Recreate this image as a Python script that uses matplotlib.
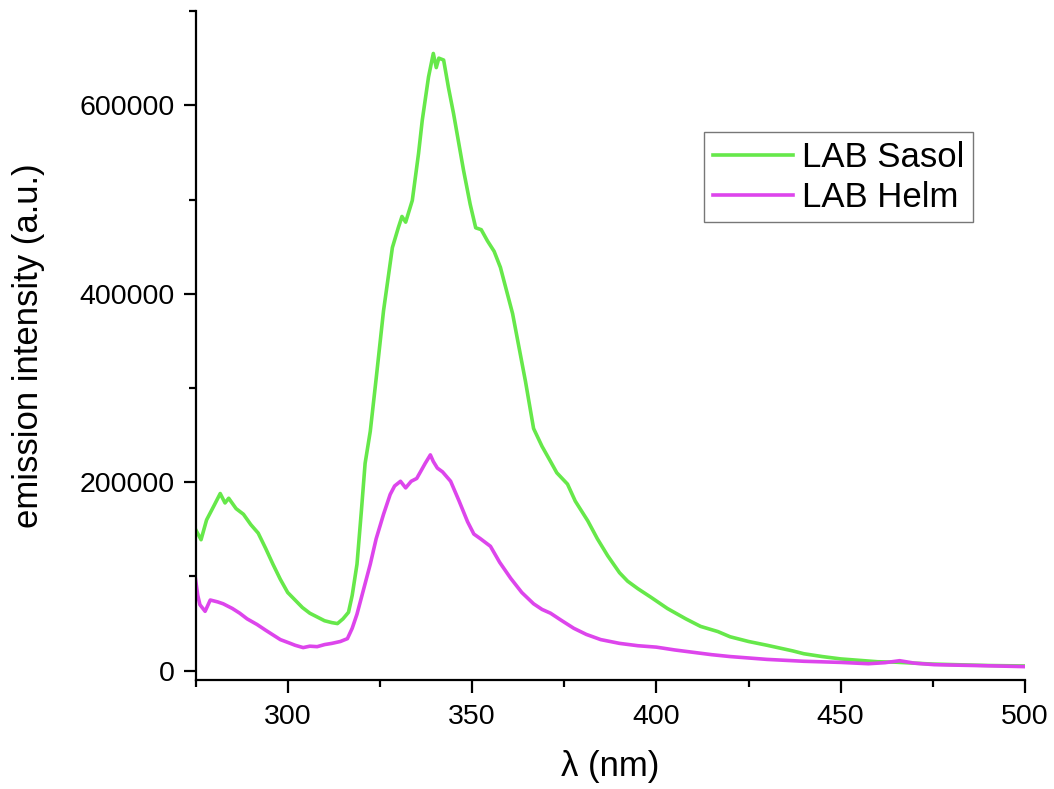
import matplotlib
matplotlib.use('Agg')
import matplotlib.pyplot as plt
from matplotlib.ticker import MultipleLocator

plt.rcParams['font.family'] = ['Liberation Sans', 'DejaVu Sans']

# Emission spectra (wavelength in nm, intensity in a.u.)
wl_sasol = [275, 276.5, 278, 280, 281.7, 283, 284, 286, 288, 290, 292, 294, 296, 298,
            300, 302, 304, 306, 308, 310, 312, 313.5, 315, 316.5, 317.5, 318.8, 320, 321,
            322.4, 324, 326, 328.4, 330, 331, 332, 333.8, 335.5, 336.5, 338.2, 339.5, 340.3,
            341, 342.3, 343.6, 345, 347.7, 349.5, 351, 352.5, 354.2, 356, 357.7, 361, 364.5,
            366.7, 369, 371.3, 373, 375.9, 378, 381.4, 384, 386.8, 390, 392.2, 395, 398.5,
            403, 408, 412, 416.7, 420, 425, 430, 437, 440, 445, 450, 455, 460, 465, 470,
            475, 480, 490, 500]
int_sasol = [150000, 139000, 160000, 175000, 188000, 178000, 183000, 172000, 166000, 155000,
             146000, 130000, 113000, 97000, 83000, 75000, 67000, 61000, 57000, 53000, 51000,
             50000, 55000, 62000, 80000, 113000, 170000, 220000, 254000, 310000, 382000,
             449000, 470000, 482000, 476000, 499000, 549000, 584000, 630000, 655000, 640000,
             650000, 648000, 619000, 591000, 531000, 495000, 470000, 468000, 456000, 445000,
             428000, 379000, 307000, 257000, 238000, 222000, 210000, 198000, 180000, 159000,
             140000, 122000, 104000, 95000, 87000, 78000, 66000, 55000, 47000, 41500, 36000,
             31000, 27000, 21000, 18000, 15000, 12500, 11000, 9500, 9000, 8000, 7000, 6500,
             5500, 5000]

wl_helm = [275, 275.6, 276.2, 277.6, 279, 281, 282.5, 285, 287, 289, 291.7, 294, 296, 298,
           300.7, 302, 304.2, 306, 308, 310, 312, 314.3, 316.2, 317.5, 318.8, 320.5, 322.4,
           324, 326, 327.8, 329, 330.6, 332, 333.5, 335, 336.3, 337.3, 338.7, 339.5, 340.6,
           342, 344.2, 346.5, 348.8, 350.5, 352.3, 355, 357.5, 360.5, 363.5, 366.7, 369,
           371.3, 374, 377.6, 381, 384.9, 390, 395, 400, 405, 410, 415, 420, 425, 430, 435,
           440, 445, 450, 457.5, 462, 466, 470, 475.4, 480, 490, 500]
int_helm = [97000, 80000, 70000, 63000, 75000, 73000, 71000, 66000, 61000, 55000, 49000,
            43000, 38000, 33000, 29000, 27000, 24500, 26000, 25500, 27700, 29000, 31000,
            34000, 45000, 60000, 85000, 113000, 140000, 166000, 187000, 196000, 201000,
            194000, 201000, 204000, 213000, 220000, 229000, 222000, 215000, 211000, 201000,
            180000, 158000, 145000, 140000, 132000, 115000, 98000, 83000, 71000, 65000,
            61000, 54000, 45000, 38500, 33000, 29000, 26500, 25000, 22000, 19500, 17000,
            15000, 13500, 12000, 11000, 10000, 9400, 8800, 7400, 8500, 10600, 8000, 6400,
            6000, 5200, 4300]

fig = plt.figure(figsize=(10.54, 7.89), dpi=100)
ax = fig.add_axes([0.1855, 0.138, 0.787, 0.848])

ax.plot(wl_sasol, int_sasol, color='#66E84A', lw=2.6, label='LAB Sasol')
ax.plot(wl_helm, int_helm, color='#DD45EC', lw=2.6, label='LAB Helm')

ax.set_xlim(275, 500)
ax.set_ylim(-10000, 700000)

ax.spines['top'].set_visible(False)
ax.spines['right'].set_visible(False)
for s in ('left', 'bottom'):
    ax.spines[s].set_linewidth(1.6)

ax.xaxis.set_major_locator(MultipleLocator(50))
ax.xaxis.set_minor_locator(MultipleLocator(25))
ax.yaxis.set_major_locator(MultipleLocator(200000))
ax.yaxis.set_minor_locator(MultipleLocator(100000))
ax.tick_params(which='major', length=9, width=1.6, labelsize=20.5, direction='out')
ax.tick_params(which='minor', length=5, width=1.6, direction='out')
ax.tick_params(axis='x', which='major', pad=8)
ax.tick_params(axis='y', which='major', pad=6)

ax.set_xlabel('λ (nm)', fontsize=25)
ax.set_ylabel('emission intensity (a.u.)', fontsize=25)
ax.xaxis.set_label_coords(0.5, -0.105)
ax.yaxis.set_label_coords(-0.181, 0.5)

leg = ax.legend(loc='upper right', bbox_to_anchor=(0.937, 0.819), fontsize=25,
                frameon=True, fancybox=False, handlelength=2.3, handletextpad=0.26,
                borderpad=0.25, labelspacing=0.2, borderaxespad=0)
leg.get_frame().set_edgecolor('#555555')
leg.get_frame().set_linewidth(1.0)
for line in leg.get_lines():
    line.set_linewidth(2.6)

fig.savefig('out.png', dpi=100, facecolor='white')
